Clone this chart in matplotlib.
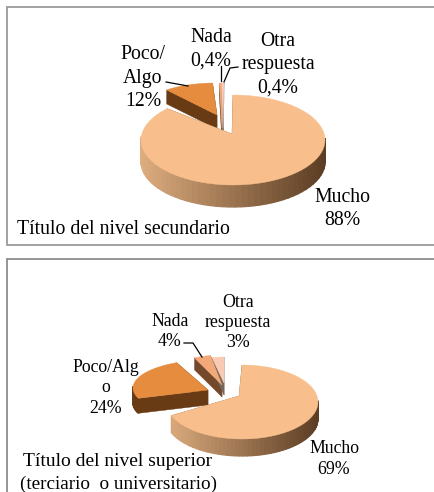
import numpy as np
import matplotlib
matplotlib.use("Agg")
import matplotlib.pyplot as plt
from matplotlib.patches import Polygon, Rectangle

plt.rcParams['font.family'] = ['Liberation Serif', 'DejaVu Serif']

sec_values = [88, 12, 0.4, 0.4]
sup_values = [69, 24, 4, 3]
sec_labels = ["Mucho\n88%", "Poco/\nAlgo\n12%", "Nada\n0,4%", "Otra\nrespuesta\n0,4%"]
sup_labels = ["Mucho\n69%", "Poco/Alg\no\n24%", "Nada\n4%", "Otra\nrespuesta\n3%"]

face = ["#f8bf8d", "#e58c3e", "#f2a878", "#f9cbb4"]
edge = ["#8a5f3a", "#683b14", "#74492b", "#77665c"]

# one ellipse per slice: cx, cy, rx, ry, apex x, apex y, depth
sec_geom = [(233, 140, 92, 45, 232, 134, 22),
            (216, 106, 69, 23, 217, 115, 14),
            (224, 128, 92, 45, 222, 128, 14),
            (224, 128, 92, 45, 223, 128, 14)]
sup_geom = [(242, 402, 76, 37, 239, 396, 17),
            (209, 388, 76, 28, 208, 390, 15),
            (223, 385, 67, 30, 222, 385, 12),
            (224, 387, 64, 30, 224, 383, 12)]


def ring(t):
    # colour of the rim, light on the left and dark on the right
    a = np.array([0.87, 0.68, 0.50])
    b = np.array([0.36, 0.24, 0.14])
    return tuple(a + (b - a) * t)


def pie(ax, values, geom):
    ang = 360 * np.cumsum([0] + list(values)) / sum(values)
    for i in range(len(values)):
        cx, cy, rx, ry, ox, oy, d = geom[i]
        a = np.radians(np.linspace(ang[i], ang[i + 1], 80))
        xs = cx + rx * np.sin(a)
        ys = cy - ry * np.cos(a)
        # cut sides first
        for px, py in ((xs[0], ys[0]), (xs[-1], ys[-1])):
            ax.add_patch(Polygon([(ox, oy), (px, py), (px, py + d), (ox, oy + d)],
                                 fc=edge[i], ec=edge[i], lw=0.3, zorder=2 + i * 0.01))
        # outer rim, only the front part shows
        for j in range(len(a) - 1):
            if np.cos(a[j]) > 0.05:
                continue
            if i == 0:
                t = (xs[j] - (cx - rx)) / (2 * rx)
                c = ring(min(1, max(0, t)))
            else:
                c = edge[i]
            ax.add_patch(Polygon([(xs[j], ys[j]), (xs[j + 1], ys[j + 1]),
                                  (xs[j + 1], ys[j + 1] + d), (xs[j], ys[j] + d)],
                                 fc=c, ec=c, lw=0.9, zorder=3))
        pts = [(ox, oy)] + list(zip(xs, ys))
        ax.add_patch(Polygon(pts, fc=face[i], ec=face[i], lw=0.3, zorder=4 + (i > 0)))


fig = plt.figure(figsize=(4.35, 4.92), dpi=100)
ax = fig.add_axes([0, 0, 1, 1])
ax.set_xlim(0, 435)
ax.set_ylim(492, 0)
ax.axis("off")

ax.add_patch(Rectangle((7, 7), 440, 238, fc="white", ec="#9a9a9a", lw=1.3, zorder=1))
ax.add_patch(Rectangle((7, 259), 440, 260, fc="white", ec="#8c8c8c", lw=1.3, zorder=1))

pie(ax, sec_values, sec_geom)
pie(ax, sup_values, sup_geom)

# leader lines
ax.plot([166, 188], [82, 86], color="black", lw=0.9, zorder=6)
ax.plot([221, 221], [66, 81], color="black", lw=0.9, zorder=6)
ax.plot([238, 230, 224], [67, 68, 82], color="black", lw=0.9, zorder=6)
ax.plot([184, 193, 202], [343, 343, 357], color="black", lw=0.9, zorder=6)

for s, x, y in zip(sec_labels, [342, 143, 211, 278], [209, 78, 49, 65]):
    ax.text(x, y, s, ha="center", va="center", fontsize=14.2, linespacing=1.3, zorder=7)
for s, x, y in zip(sup_labels, [334, 106, 170, 238], [459, 388, 331.5, 322.5]):
    ax.text(x, y, s, ha="center", va="center", fontsize=12.8, linespacing=1.25, zorder=7)

ax.text(17, 229, "Título del nivel secundario", ha="left", va="center", fontsize=14.2, zorder=7)
ax.text(23, 461, "Título del nivel superior", ha="left", va="center", fontsize=14, zorder=7)
ax.text(20, 484, "(terciario  o universitario)", ha="left", va="center", fontsize=13.8, zorder=7)

fig.savefig("out.png", dpi=100)
